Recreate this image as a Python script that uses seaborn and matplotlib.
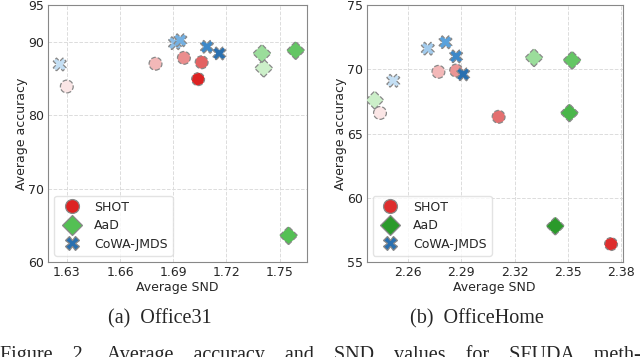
import numpy as np
import pandas as pd
import matplotlib.pyplot as plt
import seaborn as sns
from matplotlib.lines import Line2D

methods = ['SHOT', 'AaD', 'CoWA-JMDS']
markers = {'SHOT': 'o', 'AaD': 'D', 'CoWA-JMDS': 'X'}
shades = {
    'SHOT': ['#fbe6e6', '#f2b3b3', '#e57878', '#dd2222'],
    'AaD': ['#d4f2d0', '#9ede9e', '#55c055', '#2a9a2a'],
    'CoWA-JMDS': ['#d4e8f8', '#9cc8ec', '#4a98d8', '#2a70b0'],
}

# Office31
o31_shot_snd = [1.630, 1.680, 1.696, 1.706, 1.704]
o31_shot_acc = [83.9, 87.0, 87.8, 87.2, 84.9]
o31_shot_lvl = [0.0, 0.3, 0.55, 0.75, 1.0]
o31_aad_snd = [1.741, 1.740, 1.759, 1.755]
o31_aad_acc = [86.4, 88.4, 88.8, 63.6]
o31_aad_lvl = [0.05, 0.35, 0.6, 0.67]
o31_cowa_snd = [1.626, 1.691, 1.694, 1.709, 1.716]
o31_cowa_acc = [86.9, 89.8, 90.2, 89.3, 88.4]
o31_cowa_lvl = [0.1, 0.4, 0.5, 0.8, 1.0]

# OfficeHome
oh_shot_snd = [2.244, 2.277, 2.287, 2.311, 2.3745]
oh_shot_acc = [66.6, 69.8, 69.9, 66.3, 56.4]
oh_shot_lvl = [0.0, 0.3, 0.5, 0.7, 0.95]
oh_aad_snd = [2.241, 2.331, 2.3525, 2.351, 2.343]
oh_aad_acc = [67.6, 70.9, 70.7, 66.6, 57.8]
oh_aad_lvl = [0.05, 0.35, 0.6, 0.75, 1.0]
oh_cowa_snd = [2.2515, 2.271, 2.281, 2.287, 2.291]
oh_cowa_acc = [69.1, 71.6, 72.1, 71.0, 69.6]
oh_cowa_lvl = [0.1, 0.3, 0.6, 0.8, 1.0]


def make_df(snd, acc, lvl, name):
    return pd.DataFrame({'snd': snd, 'acc': acc, 'level': lvl, 'method': name})


office31 = pd.concat([
    make_df(o31_shot_snd, o31_shot_acc, o31_shot_lvl, 'SHOT'),
    make_df(o31_aad_snd, o31_aad_acc, o31_aad_lvl, 'AaD'),
    make_df(o31_cowa_snd, o31_cowa_acc, o31_cowa_lvl, 'CoWA-JMDS'),
])
officehome = pd.concat([
    make_df(oh_shot_snd, oh_shot_acc, oh_shot_lvl, 'SHOT'),
    make_df(oh_aad_snd, oh_aad_acc, oh_aad_lvl, 'AaD'),
    make_df(oh_cowa_snd, oh_cowa_acc, oh_cowa_lvl, 'CoWA-JMDS'),
])

sns.set_style('white')
plt.rcParams['font.family'] = ['DejaVu Sans']

fig = plt.figure(figsize=(6.4, 3.57), dpi=100)
ax1 = fig.add_axes([0.075, 0.266, 0.405, 0.72])
ax2 = fig.add_axes([0.573, 0.266, 0.40, 0.72])


def draw(ax, df, xlim, ylim, xticks, yticks):
    handles = []
    for m in methods:
        sub = df[df.method == m].sort_values('level')
        cmap = sns.blend_palette(shades[m], as_cmap=True)
        sns.scatterplot(data=sub, x='snd', y='acc', hue='level', palette=cmap,
                        hue_norm=(0, 1), marker=markers[m], s=85,
                        edgecolor='#888888', linewidth=0.9, linestyle='--',
                        legend=False, ax=ax, zorder=3)
        top = cmap(sub.level.max())
        handles.append(Line2D([], [], ls='', marker=markers[m], markersize=10,
                              markerfacecolor=top, markeredgecolor='#888888',
                              markeredgewidth=0.9, label=m))
    ax.set_xlim(*xlim)
    ax.set_ylim(*ylim)
    ax.set_xticks(xticks)
    ax.set_yticks(yticks)
    ax.grid(True, ls='--', color='#dcdcdc', lw=0.7)
    for sp in ax.spines.values():
        sp.set_color('#888888')
    ax.tick_params(labelsize=9, length=2, color='#888888', pad=1)
    ax.set_xlabel('Average SND', fontsize=9, labelpad=1)
    ax.set_ylabel('Average accuracy', fontsize=9, labelpad=0)
    ax.legend(handles=handles, loc='lower left', fontsize=9,
              frameon=True, edgecolor='#dddddd', handletextpad=0.8,
              labelspacing=0.45)


draw(ax1, office31, (1.6194, 1.7655), (60, 95),
     [1.63, 1.66, 1.69, 1.72, 1.75], [60, 70, 80, 90, 95])
draw(ax2, officehome, (2.2365, 2.3811), (55, 75),
     [2.26, 2.29, 2.32, 2.35, 2.38], [55, 60, 65, 70, 75])

serif = ['Liberation Serif', 'DejaVu Serif']
fig.text(0.25, 1 - 319 / 357, '(a)  Office31', ha='center', va='center',
         fontsize=14.5, family=serif)
fig.text(0.745, 1 - 319 / 357, '(b)  OfficeHome', ha='center', va='center',
         fontsize=14.5, family=serif)
caption_words = ['Figure', '2.', 'Average', 'accuracy', 'and', 'SND', 'values',
                 'for', 'SFUDA', 'meth-']
fig.text(0.0, 1 - 345 / 357, '    '.join(caption_words),
         ha='left', va='top', fontsize=14.5, family=serif)

fig.savefig('out.png', dpi=100)
